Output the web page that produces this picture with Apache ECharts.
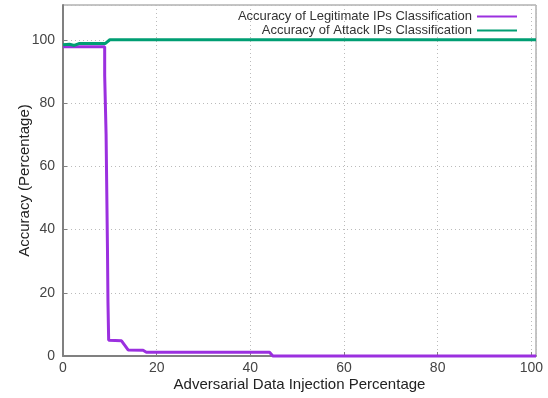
<!DOCTYPE html>
<html>
<head>
<meta charset="utf-8">
<script src="https://cdn.jsdelivr.net/npm/echarts@6/dist/echarts.min.js"></script>
<style>
  html, body { margin: 0; padding: 0; background: #fff; }
  #chart { width: 548px; height: 398px; }
</style>
</head>
<body>
<div id="chart"></div>
<script type="text/javascript">
	// series names
	var seriesNames = ['Accuracy of Legitimate IPs Classification', 'Accuracy of Attack IPs Classification'];

	// [injection %, accuracy %]
	var legitData = [
		[0, 97.8], [8.9, 97.8], [8.9, 88.7], [9.2, 88.7], [9.2, 70.2], [9.35, 70.2],
		[9.35, 51.7], [9.5, 51.7], [9.5, 33.1], [9.6, 33.1], [9.6, 17.2], [9.75, 17.2],
		[9.75, 5.0], [12.5, 4.8], [12.9, 4.5], [13.9, 1.9], [17.1, 1.8], [17.8, 1.2],
		[44.1, 1.2], [44.8, 0], [101, 0]
	];
	var attackData = [
		[0, 98.4], [1.4, 98.6], [2.4, 98.2], [3.4, 98.8], [9.0, 98.8], [10, 100], [101, 100]
	];

	var xTicks = [0, 20, 40, 60, 80, 100];
	var yTicks = [0, 20, 40, 60, 80, 100];

	var chart = echarts.init(document.getElementById('chart'));
	var option = {
		animation: false,
		grid: {
			left: 63,
			right: 12,
			top: 5,
			bottom: 42,
			outerBoundsMode: 'none',
			containLabel: false,
			show: true,
			borderColor: '#8a8a8a',
			borderWidth: 1
		},
		legend: {
			right: 26,
			top: 5,
			orient: 'vertical',
			align: 'right',
			itemGap: 1,
			itemWidth: 40,
			itemHeight: 12,
			icon: 'path://M0,5 L40,5 L40,7 L0,7 Z',
			textStyle: { color: '#333', fontSize: 13, fontFamily: 'Liberation Sans' },
			data: seriesNames
		},
		xAxis: {
			type: 'value',
			min: 0,
			max: 101,
			interval: 20,
			name: 'Adversarial Data Injection Percentage',
			nameLocation: 'middle',
			nameGap: 21,
			nameMoveOverlap: false,
			nameTextStyle: { color: '#222', fontSize: 15, fontFamily: 'Liberation Sans' },
			axisLine: { lineStyle: { color: '#808080', width: 2 } },
			axisTick: { inside: true, length: 4, lineStyle: { color: '#808080' } },
			axisLabel: {
				showMaxLabel: false,
				color: '#444',
				fontSize: 14,
				fontFamily: 'Liberation Sans',
				margin: 5,
				formatter: function (v) { return xTicks.indexOf(v) >= 0 ? String(v) : ''; }
			},
			splitLine: { show: true, lineStyle: { color: '#bbb', type: [1, 3] } }
		},
		yAxis: {
			type: 'value',
			min: 0,
			max: 111,
			interval: 20,
			name: 'Accuracy (Percentage)',
			nameLocation: 'middle',
			nameGap: 31,
			nameMoveOverlap: false,
			nameTextStyle: { color: '#222', fontSize: 15, fontFamily: 'Liberation Sans' },
			axisLine: { show: true, lineStyle: { color: '#808080', width: 2 } },
			axisTick: { inside: true, length: 4, lineStyle: { color: '#808080' } },
			axisLabel: {
				showMaxLabel: false,
				color: '#444',
				fontSize: 14,
				fontFamily: 'Liberation Sans',
				margin: 8,
				formatter: function (v) { return yTicks.indexOf(v) >= 0 ? String(v) : ''; }
			},
			splitLine: { show: true, lineStyle: { color: '#bbb', type: [1, 3] } }
		},
		series: [
			{
				name: seriesNames[0],
				type: 'line',
				showSymbol: false,
				symbol: 'none',
				clip: false,
				data: legitData,
				itemStyle: { color: '#9b30df' },
				lineStyle: { color: '#9b30df', width: 3 }
			},
			{
				name: seriesNames[1],
				type: 'line',
				showSymbol: false,
				symbol: 'none',
				clip: false,
				data: attackData,
				itemStyle: { color: '#009e73' },
				lineStyle: { color: '#009e73', width: 3 }
			}
		]
	};
	chart.setOption(option);
</script>
</body>
</html>
